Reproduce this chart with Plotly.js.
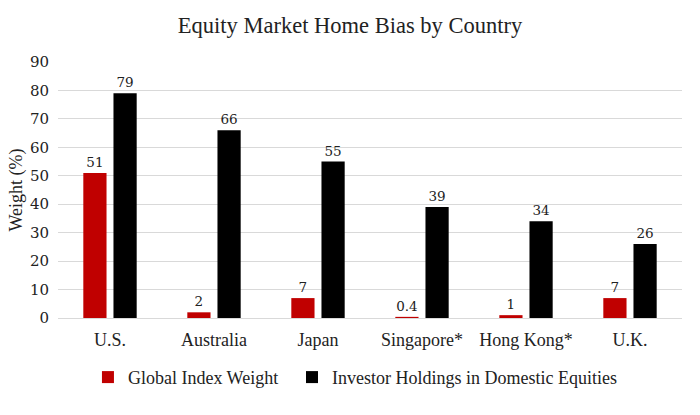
<!DOCTYPE html>
<html><head><meta charset="utf-8">
<script src="https://cdn.plot.ly/plotly-3.0.1.min.js"></script>
<style>body{margin:0;background:#fff}#c{width:700px;height:415px}</style>
</head><body><div id="c"></div>
<script>
const countries = ["U.S.", "Australia", "Japan", "Singapore*", "Hong Kong*", "U.K."];
const globalIndexWeight = [51, 2, 7, 0.4, 1, 7];
const investorHoldings = [79, 66, 55, 39, 34, 26];
const yTicks = [0, 10, 20, 30, 40, 50, 60, 70, 80, 90];

const serif = "Liberation Serif, Times New Roman, serif";
const numFont = "DejaVu Serif, Georgia, serif";

const traces = [
  {type: "bar", name: "Global Index Weight", x: countries, y: globalIndexWeight,
   marker: {color: "#C00000"}, text: globalIndexWeight.map(String), textposition: "outside",
   textfont: {family: numFont, size: 13.5, color: "#222"}, cliponaxis: false, legend: "legend"},
  {type: "bar", name: "Investor Holdings in Domestic Equities", x: countries, y: investorHoldings,
   marker: {color: "#000000"}, text: investorHoldings.map(String), textposition: "outside",
   textfont: {family: numFont, size: 13.5, color: "#222"}, cliponaxis: false, legend: "legend2"}
];

const legendCommon = {orientation: "h", xanchor: "left", y: -0.232, yanchor: "middle",
  font: {family: serif, size: 18, color: "#222"}, itemwidth: 30, bgcolor: "rgba(0,0,0,0)"};

const layout = {
  width: 700, height: 415,
  margin: {l: 58, r: 18, t: 62, b: 97},
  paper_bgcolor: "#fff", plot_bgcolor: "#fff",
  title: {text: "Equity Market Home Bias by Country", font: {family: serif, size: 22.5, color: "#222"}, x: 0.5, xanchor: "center", y: 0.94, yanchor: "middle"},
  barmode: "group", bargap: 0.42, bargroupgap: 0.23,
  xaxis: {tickfont: {family: serif, size: 18, color: "#222"}, showline: false, ticks: "", showgrid: false, ticklabelstandoff: 9},
  yaxis: {range: [0, 90], tickvals: yTicks, ticktext: yTicks.map(String),
          tickfont: {family: numFont, size: 15, color: "#222"},
          gridcolor: "#d9d9d9", gridwidth: 1, zeroline: true, zerolinecolor: "#d9d9d9", zerolinewidth: 1,
          showline: false, ticks: "", ticklabelstandoff: 8,
          title: {text: "Weight (%)", font: {family: serif, size: 18, color: "#222"}, standoff: 2}},
  legend: Object.assign({}, legendCommon, {x: 0.048}),
  legend2: Object.assign({}, legendCommon, {x: 0.375}),
  showlegend: true
};
Plotly.newPlot("c", traces, layout, {displayModeBar: false, staticPlot: true});
</script>
</body></html>
